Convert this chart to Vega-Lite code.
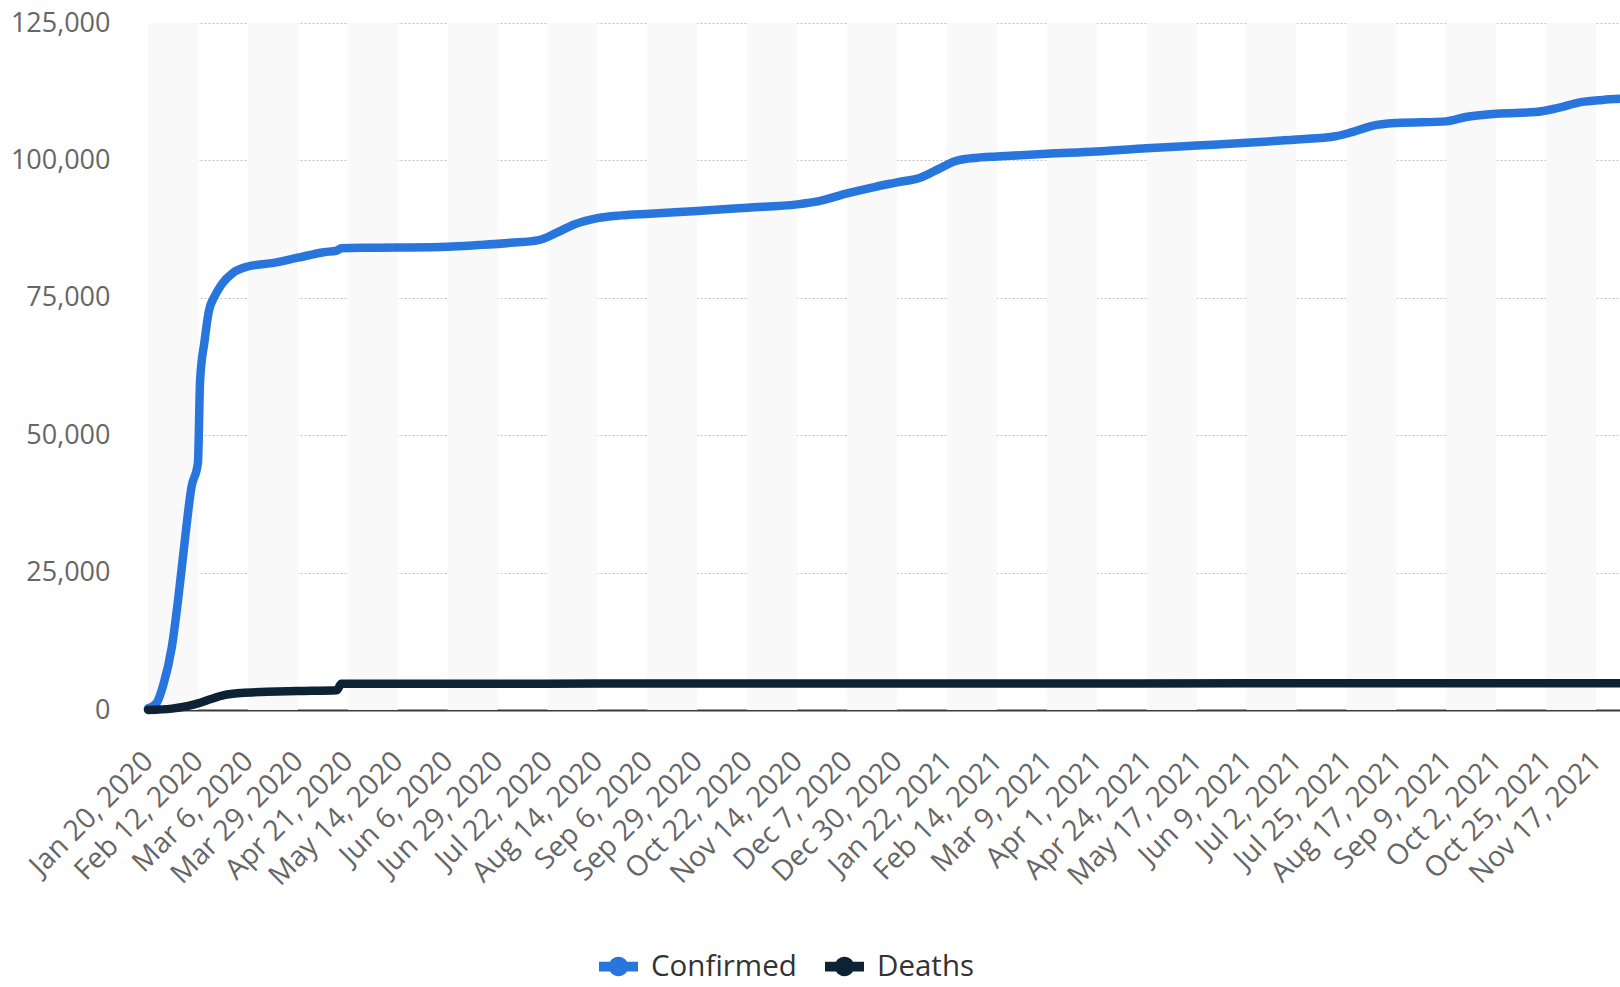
{
  "$schema": "https://vega.github.io/schema/vega-lite/v6.json",
  "autosize": {"type": "none"},
  "padding": {"left": 148, "top": 23, "right": 0, "bottom": 277},
  "width": 1472,
  "height": 687,
  "background": "white",
  "config": {"view": {"stroke": null}, "font": "Open Sans"},
  "datasets": {
    "bands": [
      {"date": "2020-01-20", "end": "2020-02-12"},
      {"date": "2020-03-06", "end": "2020-03-29"},
      {"date": "2020-04-21", "end": "2020-05-14"},
      {"date": "2020-06-06", "end": "2020-06-29"},
      {"date": "2020-07-22", "end": "2020-08-14"},
      {"date": "2020-09-06", "end": "2020-09-29"},
      {"date": "2020-10-22", "end": "2020-11-14"},
      {"date": "2020-12-07", "end": "2020-12-30"},
      {"date": "2021-01-22", "end": "2021-02-14"},
      {"date": "2021-03-09", "end": "2021-04-01"},
      {"date": "2021-04-24", "end": "2021-05-17"},
      {"date": "2021-06-09", "end": "2021-07-02"},
      {"date": "2021-07-25", "end": "2021-08-17"},
      {"date": "2021-09-09", "end": "2021-10-02"},
      {"date": "2021-10-25", "end": "2021-11-17"}
    ],
    "cases": [
      {"date": "2020-01-20", "series": "Confirmed", "value": 300},
      {"date": "2020-01-24", "series": "Confirmed", "value": 1300},
      {"date": "2020-01-27", "series": "Confirmed", "value": 4500},
      {"date": "2020-01-31", "series": "Confirmed", "value": 11500},
      {"date": "2020-02-03", "series": "Confirmed", "value": 20500},
      {"date": "2020-02-06", "series": "Confirmed", "value": 31000},
      {"date": "2020-02-09", "series": "Confirmed", "value": 40500},
      {"date": "2020-02-12", "series": "Confirmed", "value": 45000},
      {"date": "2020-02-13", "series": "Confirmed", "value": 60000},
      {"date": "2020-02-15", "series": "Confirmed", "value": 67000},
      {"date": "2020-02-17", "series": "Confirmed", "value": 72500},
      {"date": "2020-02-20", "series": "Confirmed", "value": 75500},
      {"date": "2020-02-23", "series": "Confirmed", "value": 77500},
      {"date": "2020-02-28", "series": "Confirmed", "value": 79500},
      {"date": "2020-03-06", "series": "Confirmed", "value": 80700},
      {"date": "2020-03-17", "series": "Confirmed", "value": 81300},
      {"date": "2020-03-29", "series": "Confirmed", "value": 82300},
      {"date": "2020-04-10", "series": "Confirmed", "value": 83300},
      {"date": "2020-04-16", "series": "Confirmed", "value": 83600},
      {"date": "2020-04-18", "series": "Confirmed", "value": 84000},
      {"date": "2020-05-01", "series": "Confirmed", "value": 84100},
      {"date": "2020-05-14", "series": "Confirmed", "value": 84150},
      {"date": "2020-06-06", "series": "Confirmed", "value": 84300},
      {"date": "2020-06-20", "series": "Confirmed", "value": 84600},
      {"date": "2020-07-05", "series": "Confirmed", "value": 85000},
      {"date": "2020-07-18", "series": "Confirmed", "value": 85500},
      {"date": "2020-07-26", "series": "Confirmed", "value": 86800},
      {"date": "2020-08-03", "series": "Confirmed", "value": 88300},
      {"date": "2020-08-14", "series": "Confirmed", "value": 89500},
      {"date": "2020-08-25", "series": "Confirmed", "value": 90000},
      {"date": "2020-09-07", "series": "Confirmed", "value": 90300},
      {"date": "2020-09-29", "series": "Confirmed", "value": 90800},
      {"date": "2020-10-22", "series": "Confirmed", "value": 91400},
      {"date": "2020-11-14", "series": "Confirmed", "value": 92000},
      {"date": "2020-11-24", "series": "Confirmed", "value": 92600},
      {"date": "2020-12-07", "series": "Confirmed", "value": 94000},
      {"date": "2020-12-20", "series": "Confirmed", "value": 95200},
      {"date": "2020-12-30", "series": "Confirmed", "value": 96000},
      {"date": "2021-01-10", "series": "Confirmed", "value": 96900},
      {"date": "2021-01-18", "series": "Confirmed", "value": 98400},
      {"date": "2021-01-26", "series": "Confirmed", "value": 99900},
      {"date": "2021-02-05", "series": "Confirmed", "value": 100500},
      {"date": "2021-02-14", "series": "Confirmed", "value": 100700},
      {"date": "2021-03-09", "series": "Confirmed", "value": 101200},
      {"date": "2021-04-01", "series": "Confirmed", "value": 101600},
      {"date": "2021-04-24", "series": "Confirmed", "value": 102200},
      {"date": "2021-05-17", "series": "Confirmed", "value": 102700},
      {"date": "2021-06-09", "series": "Confirmed", "value": 103200},
      {"date": "2021-07-02", "series": "Confirmed", "value": 103800},
      {"date": "2021-07-20", "series": "Confirmed", "value": 104400},
      {"date": "2021-07-28", "series": "Confirmed", "value": 105200},
      {"date": "2021-08-06", "series": "Confirmed", "value": 106300},
      {"date": "2021-08-17", "series": "Confirmed", "value": 106800},
      {"date": "2021-09-09", "series": "Confirmed", "value": 107100},
      {"date": "2021-09-18", "series": "Confirmed", "value": 107900},
      {"date": "2021-10-02", "series": "Confirmed", "value": 108500},
      {"date": "2021-10-20", "series": "Confirmed", "value": 108800},
      {"date": "2021-10-30", "series": "Confirmed", "value": 109500},
      {"date": "2021-11-10", "series": "Confirmed", "value": 110600},
      {"date": "2021-11-20", "series": "Confirmed", "value": 111000},
      {"date": "2021-11-28", "series": "Confirmed", "value": 111200},
      {"date": "2020-01-20", "series": "Deaths", "value": 0},
      {"date": "2020-01-31", "series": "Deaths", "value": 250},
      {"date": "2020-02-07", "series": "Deaths", "value": 700},
      {"date": "2020-02-12", "series": "Deaths", "value": 1200},
      {"date": "2020-02-18", "series": "Deaths", "value": 2000},
      {"date": "2020-02-24", "series": "Deaths", "value": 2700},
      {"date": "2020-03-03", "series": "Deaths", "value": 3100},
      {"date": "2020-03-15", "series": "Deaths", "value": 3300},
      {"date": "2020-03-29", "series": "Deaths", "value": 3450},
      {"date": "2020-04-16", "series": "Deaths", "value": 3600},
      {"date": "2020-04-18", "series": "Deaths", "value": 4780},
      {"date": "2020-06-06", "series": "Deaths", "value": 4780},
      {"date": "2020-08-14", "series": "Deaths", "value": 4800},
      {"date": "2020-12-30", "series": "Deaths", "value": 4830},
      {"date": "2021-06-09", "series": "Deaths", "value": 4850},
      {"date": "2021-11-28", "series": "Deaths", "value": 4870}
    ]
  },
  "encoding": {
    "x": {
      "field": "date",
      "type": "temporal",
      "scale": {
        "type": "utc",
        "domain": [
          {"year": 2020, "month": 1, "date": 20, "utc": true},
          {"year": 2021, "month": 11, "date": 28, "utc": true}
        ]
      },
      "axis": {
        "values": [
          {"year": 2020, "month": 1, "date": 20, "utc": true},
          {"year": 2020, "month": 2, "date": 12, "utc": true},
          {"year": 2020, "month": 3, "date": 6, "utc": true},
          {"year": 2020, "month": 3, "date": 29, "utc": true},
          {"year": 2020, "month": 4, "date": 21, "utc": true},
          {"year": 2020, "month": 5, "date": 14, "utc": true},
          {"year": 2020, "month": 6, "date": 6, "utc": true},
          {"year": 2020, "month": 6, "date": 29, "utc": true},
          {"year": 2020, "month": 7, "date": 22, "utc": true},
          {"year": 2020, "month": 8, "date": 14, "utc": true},
          {"year": 2020, "month": 9, "date": 6, "utc": true},
          {"year": 2020, "month": 9, "date": 29, "utc": true},
          {"year": 2020, "month": 10, "date": 22, "utc": true},
          {"year": 2020, "month": 11, "date": 14, "utc": true},
          {"year": 2020, "month": 12, "date": 7, "utc": true},
          {"year": 2020, "month": 12, "date": 30, "utc": true},
          {"year": 2021, "month": 1, "date": 22, "utc": true},
          {"year": 2021, "month": 2, "date": 14, "utc": true},
          {"year": 2021, "month": 3, "date": 9, "utc": true},
          {"year": 2021, "month": 4, "date": 1, "utc": true},
          {"year": 2021, "month": 4, "date": 24, "utc": true},
          {"year": 2021, "month": 5, "date": 17, "utc": true},
          {"year": 2021, "month": 6, "date": 9, "utc": true},
          {"year": 2021, "month": 7, "date": 2, "utc": true},
          {"year": 2021, "month": 7, "date": 25, "utc": true},
          {"year": 2021, "month": 8, "date": 17, "utc": true},
          {"year": 2021, "month": 9, "date": 9, "utc": true},
          {"year": 2021, "month": 10, "date": 2, "utc": true},
          {"year": 2021, "month": 10, "date": 25, "utc": true},
          {"year": 2021, "month": 11, "date": 17, "utc": true}
        ],
        "labelExpr": "utcFormat(datum.value, '%b %-d, %Y')",
        "labelAngle": -45,
        "labelAlign": "right",
        "labelBaseline": "middle",
        "labelFont": "Open Sans",
        "labelFontSize": 28.5,
        "labelColor": "#666666",
        "labelPadding": 46,
        "labelOverlap": false,
        "labelFlush": false,
        "labelBound": false,
        "labelLimit": 400,
        "ticks": false,
        "grid": false,
        "domainColor": "#3a3a3a",
        "domainWidth": 2,
        "title": null
      }
    }
  },
  "layer": [
    {
      "data": {"name": "bands"},
      "mark": {"type": "rect", "color": "#f9f9f9"},
      "encoding": {"x2": {"field": "end"}}
    },
    {
      "data": {"name": "cases"},
      "mark": {"type": "line", "strokeWidth": 8.5, "interpolate": "monotone", "strokeCap": "round", "strokeJoin": "round"},
      "encoding": {
        "y": {
          "field": "value",
          "type": "quantitative",
          "scale": {"domain": [0, 125000], "nice": false},
          "axis": {
            "values": [0, 25000, 50000, 75000, 100000, 125000],
            "format": ",d",
            "labelFont": "Open Sans",
            "labelFontSize": 27,
            "labelColor": "#666666",
            "labelPadding": 38,
            "ticks": false,
            "domain": false,
            "gridDash": [2, 2],
            "gridColor": "#c4c4c4",
            "gridWidth": 1,
            "title": null
          }
        },
        "color": {
          "field": "series",
          "type": "nominal",
          "scale": {"domain": ["Confirmed", "Deaths"], "range": ["#2876dd", "#0e2236"]},
          "legend": {
            "title": null,
            "orient": "none",
            "direction": "horizontal",
            "legendX": 451,
            "legendY": 924,
            "padding": 0,
            "symbolType": "M-1,-0.25L1,-0.25L1,0.25L-1,0.25Z M0.5,0A0.5,0.5 0 1,1 -0.5,0A0.5,0.5 0 1,1 0.5,0Z",
            "symbolSize": 1521,
            "symbolStrokeWidth": 0,
            "labelFont": "Open Sans",
            "labelFontSize": 29.5,
            "labelColor": "#333333",
            "labelOffset": 13,
            "labelLimit": 400,
            "columnPadding": 28,
            "encode": {
              "symbols": {
                "update": {
                  "fill": {"scale": "color", "field": "value"},
                  "stroke": {"value": "transparent"},
                  "strokeWidth": {"value": 0}
                }
              }
            }
          }
        }
      }
    }
  ]
}
